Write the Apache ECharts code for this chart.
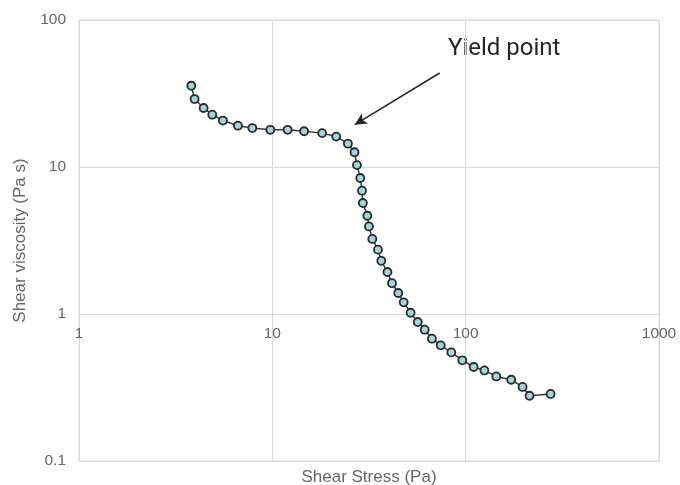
<!DOCTYPE html>
<html>
<head>
<meta charset="utf-8">
<script src="https://cdn.jsdelivr.net/npm/echarts@6/dist/echarts.min.js"></script>
<style>html,body{margin:0;padding:0;background:#fff;}#c{width:680px;height:485px;}</style>
</head>
<body>
<div id="c"></div>
<script>
// Shear stress (Pa)
var shearStress = [3.81, 3.96, 4.41, 4.89, 5.55, 6.64, 7.88, 9.76, 12.0, 14.6, 18.1, 21.4, 24.6, 26.6, 27.4, 28.5, 29.1, 29.4, 31.0, 31.6, 32.9, 35.2, 36.6, 39.4, 41.6, 44.8, 47.8, 51.9, 56.5, 61.4, 66.9, 74.3, 84.3, 96.1, 110, 125, 144, 172, 197, 214, 275];
// Shear viscosity (Pa s)
var shearViscosity = [35.7, 29.0, 25.2, 22.7, 20.7, 19.1, 18.4, 17.9, 17.9, 17.5, 17.0, 16.1, 14.4, 12.6, 10.3, 8.42, 6.90, 5.69, 4.66, 3.94, 3.24, 2.74, 2.30, 1.93, 1.62, 1.39, 1.20, 1.02, 0.882, 0.782, 0.679, 0.612, 0.548, 0.484, 0.436, 0.413, 0.376, 0.357, 0.319, 0.278, 0.286];
var xTicks = [1, 10, 100, 1000];
var yTicks = [0.1, 1, 10, 100];
var annotationText = 'Yield point';
var arrowFrom = [73.4, 43.6];
var arrowTo = [26.7, 19.4];

var pts = shearStress.map(function (x, i) { return [x, shearViscosity[i]]; });
var gray = '#d9d9d9';
var txt = '#666666';
var font = 'Liberation Sans';
var fmt = function (v) { return String(v); };

var chart = echarts.init(document.getElementById('c'));
chart.setOption({
  animation: false,
  grid: { left: 79, top: 20, right: 21, bottom: 24, show: true, borderColor: gray, borderWidth: 1, containLabel: false, outerBoundsMode: 'none' },
  xAxis: [{
    type: 'log', logBase: 10, min: xTicks[0], max: xTicks[xTicks.length - 1],
    position: 'bottom',
    name: 'Shear Stress (Pa)', nameLocation: 'middle', nameGap: 8,
    nameTextStyle: { color: txt, fontSize: 17, fontFamily: font },
    axisLine: { show: false }, axisTick: { show: false },
    axisLabel: { show: false },
    splitLine: { show: true, lineStyle: { color: gray, width: 1 } },
    minorSplitLine: { show: false }
  }, {
    type: 'log', logBase: 10, min: xTicks[0], max: xTicks[xTicks.length - 1],
    position: 'bottom', offset: -147,
    axisLine: { show: false }, axisTick: { show: false },
    axisLabel: { show: true, color: txt, fontSize: 15.5, fontFamily: font, margin: 12, showMinLabel: true, showMaxLabel: true, formatter: fmt },
    splitLine: { show: false }
  }],
  yAxis: {
    type: 'log', logBase: 10, min: yTicks[0], max: yTicks[yTicks.length - 1],
    name: 'Shear viscosity (Pa s)', nameLocation: 'middle', nameGap: 50, nameRotate: 90,
    nameTextStyle: { color: txt, fontSize: 17, fontFamily: font },
    axisLine: { show: false }, axisTick: { show: false },
    axisLabel: { color: txt, fontSize: 15.5, fontFamily: font, margin: 13, formatter: fmt },
    splitLine: { show: true, lineStyle: { color: gray, width: 1 } }
  },
  series: [{
    type: 'line', xAxisIndex: 0, data: pts,
    symbol: 'circle', symbolSize: 8, showSymbol: true,
    lineStyle: { color: '#3a3a3a', width: 1.5 },
    itemStyle: { color: '#a3d6dc', borderColor: '#2a2a2a', borderWidth: 1.8 },
    markLine: {
      silent: true, symbol: ['none', 'arrow'], symbolSize: [9, 12],
      label: { show: false },
      lineStyle: { color: '#262626', width: 1.5, type: 'solid' },
      data: [[{ coord: arrowFrom }, { coord: arrowTo }]]
    }
  }],
  graphic: [{
    type: 'text', left: 448, top: 37,
    style: { text: annotationText, fill: '#262626', fontSize: 24, fontFamily: 'Roboto' }
  }]
});
</script>
</body>
</html>
